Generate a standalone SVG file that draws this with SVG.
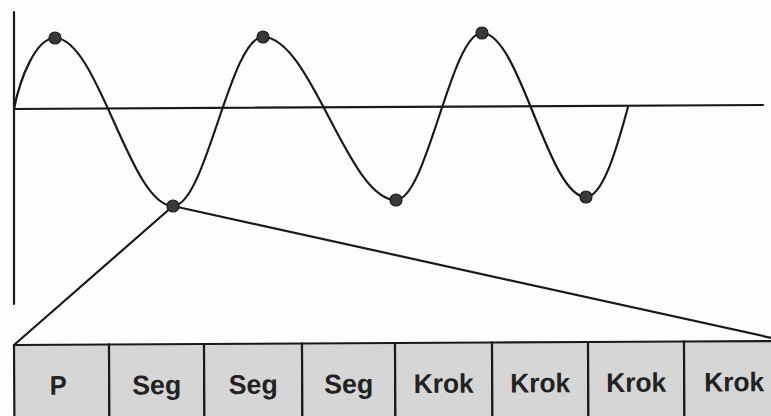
<svg xmlns="http://www.w3.org/2000/svg" width="771" height="416" viewBox="0 0 771 416">
<style>
.ln{fill:none;stroke:#1a1a1a;stroke-width:2.2;stroke-linecap:round;stroke-linejoin:round}
.dot{fill:#3a3a3a;stroke:#1a1a1a;stroke-width:1.2}
.cell{fill:#d6d6d6;stroke:#1a1a1a;stroke-width:2.2}
.lbl{font-family:"Liberation Sans Narrow","Arial Narrow","Liberation Sans",Arial,sans-serif;font-weight:bold;font-size:27px;fill:#222;text-anchor:middle}
</style>
<rect width="771" height="416" fill="#fdfdfd"/>
<g id="axes">
<line class="ln" x1="14" y1="12" x2="14" y2="304"/>
<line class="ln" x1="14" y1="109" x2="763" y2="105"/>
</g>
<g id="wave">
<path class="ln" d="M14,109 C20,78 36,38 55,38 C98,38 130,206 173,206 C206,206 230,37 263,37 C311,37 348,200 396,200 C427,200 451,33 482,33 C520,33 548,197 586,197 C604,197 619,140 628,107"/>
</g>
<g id="connectors">
<line class="ln" x1="173" y1="206" x2="14" y2="345"/>
<line class="ln" x1="173" y1="206" x2="772" y2="338"/>
</g>
<g id="points">
<circle class="dot" cx="55" cy="38" r="6"/>
<circle class="dot" cx="173" cy="206" r="6"/>
<circle class="dot" cx="263" cy="37" r="6"/>
<circle class="dot" cx="396" cy="200" r="6"/>
<circle class="dot" cx="482" cy="33" r="6"/>
<circle class="dot" cx="586" cy="197" r="6"/>
</g>
<g id="row" transform="rotate(-0.3 14 345)">
<g id="cell-p"><rect class="cell" x="14" y="345" width="95" height="90"/><text class="lbl" x="58" y="395" textLength="17" lengthAdjust="spacingAndGlyphs">P</text></g>
<g id="cell-seg1"><rect class="cell" x="109" y="345" width="95" height="90"/><text class="lbl" x="156.5" y="395" textLength="49" lengthAdjust="spacingAndGlyphs">Seg</text></g>
<g id="cell-seg2"><rect class="cell" x="204" y="345" width="98" height="90"/><text class="lbl" x="253" y="395" textLength="49" lengthAdjust="spacingAndGlyphs">Seg</text></g>
<g id="cell-seg3"><rect class="cell" x="302" y="345" width="93" height="90"/><text class="lbl" x="348.5" y="395" textLength="49" lengthAdjust="spacingAndGlyphs">Seg</text></g>
<g id="cell-krok1"><rect class="cell" x="395" y="345" width="97" height="90"/><text class="lbl" x="443.5" y="395" textLength="60" lengthAdjust="spacingAndGlyphs">Krok</text></g>
<g id="cell-krok2"><rect class="cell" x="492" y="345" width="96" height="90"/><text class="lbl" x="540" y="395" textLength="60" lengthAdjust="spacingAndGlyphs">Krok</text></g>
<g id="cell-krok3"><rect class="cell" x="588" y="345" width="96" height="90"/><text class="lbl" x="636" y="395" textLength="60" lengthAdjust="spacingAndGlyphs">Krok</text></g>
<g id="cell-krok4"><rect class="cell" x="684" y="345" width="98" height="90"/><text class="lbl" x="734" y="395" textLength="60" lengthAdjust="spacingAndGlyphs">Krok</text></g>
</g>
</svg>
